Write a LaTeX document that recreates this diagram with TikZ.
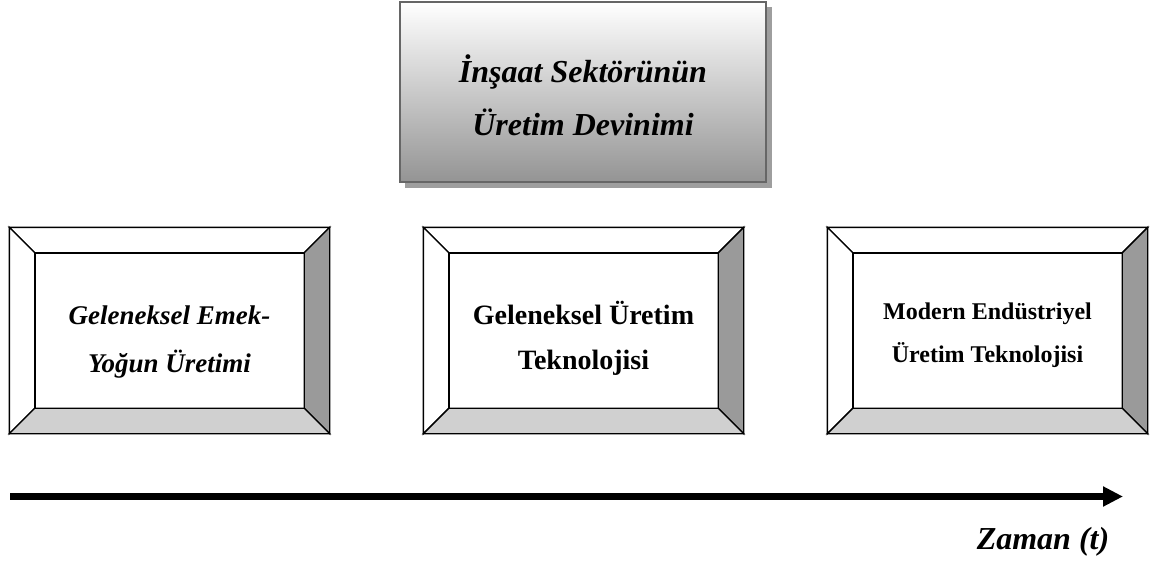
\documentclass[tikz,border=0pt]{standalone}
\usepackage{fontspec}
\setmainfont{Liberation Serif}
\usetikzlibrary{arrows.meta,shadows}
\definecolor{bevdark}{HTML}{9A9A9A}
\definecolor{bevlight}{HTML}{D0D0D0}
\tikzset{
  outerbox/.style={draw=black,line width=1.4pt,inner sep=0pt,minimum width=319pt,minimum height=205pt},
  innerbox/.style={inner sep=0pt,minimum width=269pt,minimum height=155pt},
  facet/.style={draw=black,line width=1.4pt,line join=miter},
  lbl/.style={align=center,inner sep=0pt},
  titlebox/.style={draw=black!60,line width=1.2pt,top color=white,bottom color=black!42,
     minimum width=366pt,minimum height=180pt,inner sep=0pt},
}
\newcommand\bevelfaces[1]{%
  \filldraw[facet,fill=white] (b#1.north west) -- (b#1.north east) -- (t#1.north east) -- (t#1.north west) -- cycle;
  \filldraw[facet,fill=white] (b#1.north west) -- (t#1.north west) -- (t#1.south west) -- (b#1.south west) -- cycle;
  \filldraw[facet,fill=bevdark] (b#1.north east) -- (b#1.south east) -- (t#1.south east) -- (t#1.north east) -- cycle;
  \filldraw[facet,fill=bevlight] (b#1.south east) -- (b#1.south west) -- (t#1.south west) -- (t#1.south east) -- cycle;
  \draw[facet] (t#1.north west) rectangle (t#1.south east);
}
\begin{document}
\begin{tikzpicture}[x=1pt,y=-1pt]
\useasboundingbox (0,0) rectangle (1152,563);
% title box
\fill[black!38] (405,7) rectangle (772,188);
\node[titlebox] (top) at (583,92) {};
\node[lbl,font=\fontsize{32}{53}\selectfont\bfseries\itshape] (toplbl) at (583,95) {İnşaat Sektörünün\\Üretim Devinimi};
% three bevel boxes
\node[outerbox] (b1) at (169.5,330.5) {};
\node[innerbox] (t1) at (169.5,330.5) {};
\bevelfaces{1}
\node[outerbox] (b2) at (583.5,330.5) {};
\node[innerbox] (t2) at (583.5,330.5) {};
\bevelfaces{2}
\node[outerbox] (b3) at (987.5,330.5) {};
\node[innerbox] (t3) at (987.5,330.5) {};
\bevelfaces{3}
\node[lbl,font=\fontsize{27}{48}\selectfont\bfseries\itshape] (l1) at (169.5,342) {Geleneksel Emek-\\Yoğun Üretimi};
\node[lbl,font=\fontsize{28}{45}\selectfont\bfseries] (l2) at (583.5,338) {Geleneksel Üretim\\Teknolojisi};
\node[lbl,font=\fontsize{24}{43}\selectfont\bfseries] (l3) at (987.5,335) {Modern Endüstriyel\\Üretim Teknolojisi};
% time arrow
\coordinate (as) at (10,496.5);
\coordinate (ae) at (1123,496.5);
\draw[line width=7pt,-{Triangle[length=20pt,width=19pt]}] (as) -- (ae);
\node[lbl,font=\fontsize{32}{38}\selectfont\bfseries\itshape] (zaman) at (1043,542) {Zaman (t)};
\end{tikzpicture}
\end{document}
